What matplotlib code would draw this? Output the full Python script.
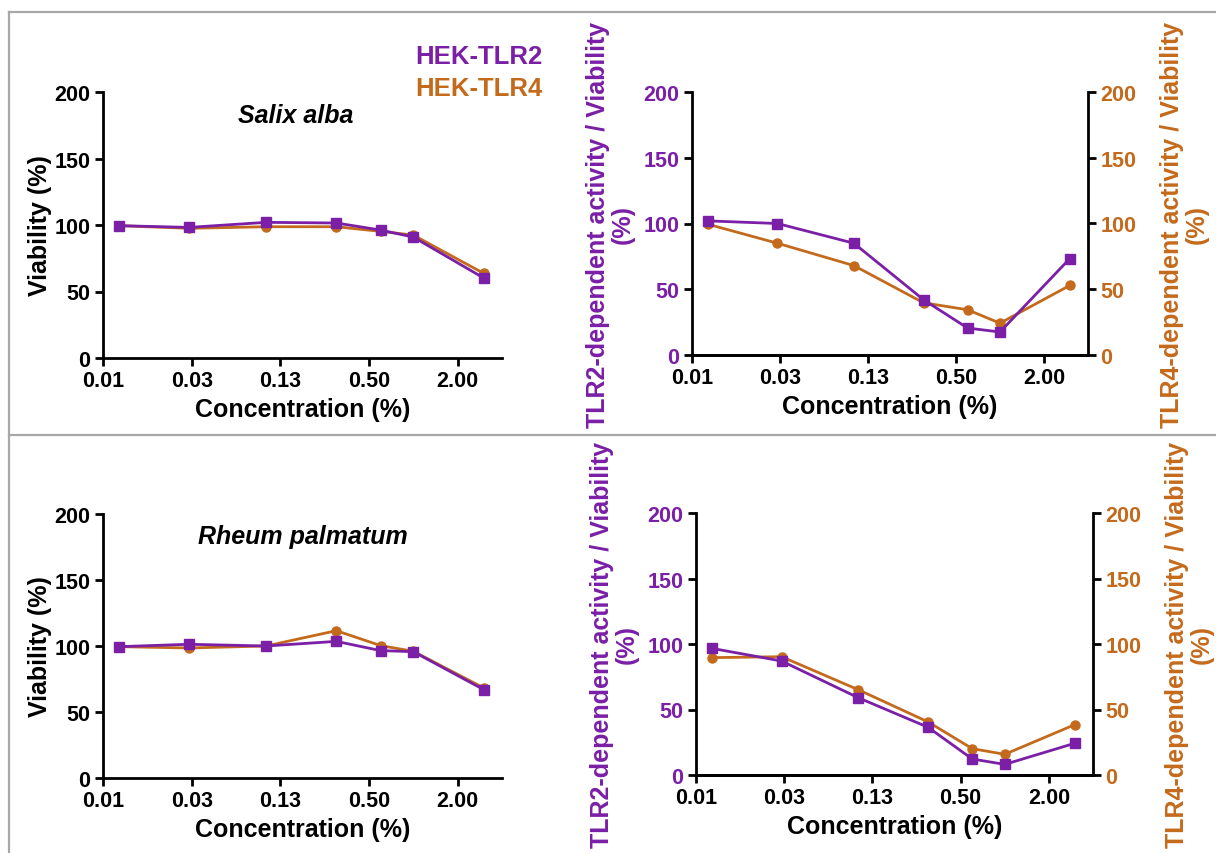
import matplotlib
matplotlib.use("Agg")
import matplotlib.pyplot as plt
from matplotlib.lines import Line2D

plt.rcParams['font.family'] = ['Liberation Sans', 'DejaVu Sans']
plt.rcParams['font.weight'] = 'bold'

# ---------------- data ----------------
concentration = [0.01, 0.03, 0.1, 0.3, 0.6, 1.0, 3.0]
tick_positions = [2**-7, 2**-5, 2**-3, 2**-1, 2**1]
tick_labels = ["0.01", "0.03", "0.13", "0.50", "2.00"]

salix_viab_tlr2 = [99.5, 98.2, 102.0, 101.5, 96.2, 90.9, 60.2]
salix_viab_tlr4 = [99.5, 97.5, 98.7, 98.7, 95.2, 92.4, 63.7]
salix_act_tlr2 = [102.0, 100.0, 85.0, 42.0, 20.5, 17.5, 73.3]
salix_act_tlr4 = [99.5, 85.0, 68.0, 39.7, 34.4, 24.2, 52.9]

rheum_viab_tlr2 = [99.5, 101.3, 100.0, 103.5, 96.5, 95.7, 67.0]
rheum_viab_tlr4 = [99.5, 98.5, 100.0, 111.6, 100.3, 96.0, 68.3]
rheum_act_tlr2 = [96.7, 87.0, 59.0, 36.4, 12.2, 8.1, 24.2]
rheum_act_tlr4 = [89.6, 90.3, 65.1, 40.5, 20.1, 15.8, 38.4]

y_ticks = [0, 50, 100, 150, 200]

PURPLE = '#7a1fa6'
ORANGE = '#c46a1c'

W, H = 1216, 854
fig = plt.figure(figsize=(W / 100, H / 100), dpi=100)


def box(l, r, b, t):
    return [l / W, 1 - b / H, (r - l) / W, (b - t) / H]


TICK_FS = 15.5
LAB_FS = 18


def style_axis(ax, tick_color='black', side='left', xaxis=True):
    if xaxis:
        ax.set_xscale('log', base=2)
        ax.set_xlim(2**-7, 4)
        ax.set_xticks(tick_positions)
        ax.set_xticklabels(tick_labels)
        ax.minorticks_off()
    ax.set_ylim(0, 200)
    ax.set_yticks(y_ticks)
    for s in ['top', 'right', 'left', 'bottom']:
        ax.spines[s].set_visible(False)
    ax.spines['bottom'].set_visible(True)
    ax.spines[side].set_visible(True)
    for s in ax.spines.values():
        s.set_linewidth(2.0)
    ax.tick_params(axis='both', direction='out', length=6, width=2.0,
                   labelsize=TICK_FS, pad=3)
    ax.tick_params(axis='y', labelcolor=tick_color)
    for lab in ax.get_xticklabels() + ax.get_yticklabels():
        lab.set_fontweight('bold')
    ax.patch.set_alpha(0)


def line(ax, y, color, marker, ms, z):
    ax.plot(concentration, y, color=color, marker=marker, markersize=ms,
            linewidth=2.0, zorder=z, clip_on=False)


def viability_panel(rect, y2, y4, title, ty):
    ax = fig.add_axes(box(*rect))
    style_axis(ax)
    line(ax, y4, ORANGE, 'o', 6.5, 3)
    line(ax, y2, PURPLE, 's', 7.5, 4)
    ax.set_xlabel('Concentration (%)', fontsize=LAB_FS, fontweight='bold', labelpad=4)
    ax.set_ylabel('Viability (%)', fontsize=LAB_FS, fontweight='bold', labelpad=2)
    fig.text(title[1] / W, 1 - ty / H, title[0], fontsize=LAB_FS,
             fontweight='bold', fontstyle='italic', ha='center', va='center')
    return ax


def activity_panel(rect, y2, y4):
    ax = fig.add_axes(box(*rect))
    style_axis(ax, tick_color=PURPLE, side='left')
    ax2 = ax.twinx()
    style_axis(ax2, tick_color=ORANGE, side='right', xaxis=False)
    line(ax2, y4, ORANGE, 'o', 6.5, 3)
    line(ax, y2, PURPLE, 's', 7.5, 4)
    ax.set_zorder(ax2.get_zorder() + 1)
    ax.set_xlabel('Concentration (%)', fontsize=LAB_FS, fontweight='bold', labelpad=4)
    ax.set_ylabel('TLR2-dependent activity / Viability\n(%)', fontsize=LAB_FS,
                  fontweight='bold', color=PURPLE, labelpad=6, linespacing=1.05)
    ax2.set_ylabel('TLR4-dependent activity / Viability\n(%)', fontsize=LAB_FS,
                   fontweight='bold', color=ORANGE, labelpad=17, rotation=90,
                   linespacing=1.05)
    return ax, ax2


viability_panel((103, 502, 359, 93), salix_viab_tlr2, salix_viab_tlr4,
                ('Salix alba', 296), 116)
viability_panel((103, 502, 779, 515), rheum_viab_tlr2, rheum_viab_tlr4,
                ('Rheum palmatum', 303), 537)
activity_panel((692, 1088, 356, 93), salix_act_tlr2, salix_act_tlr4)
activity_panel((696, 1093, 776, 514), rheum_act_tlr2, rheum_act_tlr4)

# legend text
fig.text(415 / W, 1 - 57 / H, 'HEK-TLR2', color=PURPLE, fontsize=18.5,
         fontweight='bold', ha='left', va='center')
fig.text(415 / W, 1 - 89 / H, 'HEK-TLR4', color=ORANGE, fontsize=18.5,
         fontweight='bold', ha='left', va='center')

# grey frame
gc = '#a8a8a8'
fig.add_artist(Line2D([9 / W, 9 / W], [0, 1 - 13 / H], color=gc, lw=1.6,
                      transform=fig.transFigure))
fig.add_artist(Line2D([9 / W, 1], [1 - 13 / H, 1 - 13 / H], color=gc, lw=1.6,
                      transform=fig.transFigure))
fig.add_artist(Line2D([9 / W, 1], [1 - 436 / H, 1 - 436 / H], color=gc, lw=1.6,
                      transform=fig.transFigure))

fig.savefig('out.png', dpi=100)
